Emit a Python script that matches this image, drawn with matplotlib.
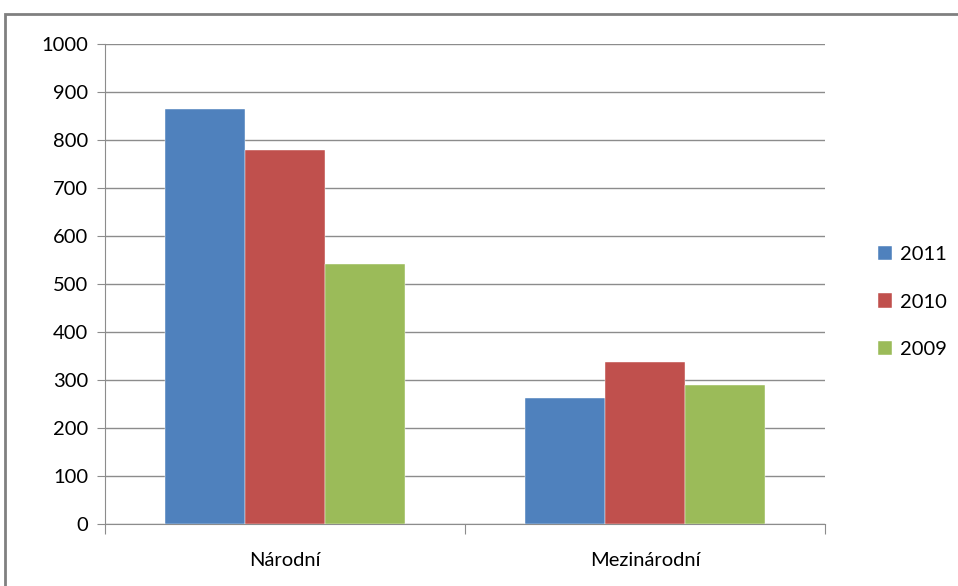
import matplotlib.pyplot as plt
import numpy as np
from matplotlib.patches import Rectangle

categories = ['Národní', 'Mezinárodní']
years = ['2011', '2010', '2009']
values_2011 = [865, 263]
values_2010 = [779, 338]
values_2009 = [541, 290]
colors = ['#4F81BD', '#C0504D', '#9BBB59']

plt.rcParams['font.family'] = ['Lato', 'DejaVu Sans']

fig = plt.figure(figsize=(9.58, 5.86), dpi=100)
ax = fig.add_axes([105/958, 1-524/586, 720/958, 480/586])

# frame around the whole chart (right/bottom edges fall off the picture)
fig.patches.append(Rectangle((5/958, -0.05), 1.1, 1-14/586+0.05, transform=fig.transFigure,
                             fill=False, edgecolor='#808080', linewidth=2))

x = np.arange(len(categories))
w = 2/9
series = [values_2011, values_2010, values_2009]
for i, (vals, yr, c) in enumerate(zip(series, years, colors)):
    ax.bar(x + (i-1)*w, vals, width=w, color=c, label=yr, edgecolor='white', linewidth=0.3, zorder=3)

ax.set_xlim(-0.5, 1.5)
ax.set_ylim(0, 1000)
ax.set_yticks(range(0, 1001, 100))
ax.yaxis.grid(True, color='#8c8c8c', linewidth=1)
ax.set_axisbelow(True)
for s in ['top', 'right']:
    ax.spines[s].set_visible(False)
for s in ['left', 'bottom']:
    ax.spines[s].set_color('#8c8c8c')
ax.set_xticks([-0.5, 0.5, 1.5])
ax.set_xticklabels([])
ax.set_xticks(x, minor=True)
ax.set_xticklabels(categories, minor=True)
ax.tick_params(axis='x', which='major', length=7, color='#8c8c8c', direction='out')
ax.tick_params(axis='x', which='minor', length=0, pad=20, labelsize=14.5)
ax.tick_params(axis='y', length=6, color='#8c8c8c', labelsize=14.5, pad=6)

ax.legend(loc='center left', bbox_to_anchor=(860/958, 1-302/586), bbox_transform=fig.transFigure,
          frameon=False, fontsize=14.5, handlelength=0.7, handleheight=0.7, labelspacing=1.5,
          handletextpad=0.4)

fig.savefig('out.png', dpi=100)
